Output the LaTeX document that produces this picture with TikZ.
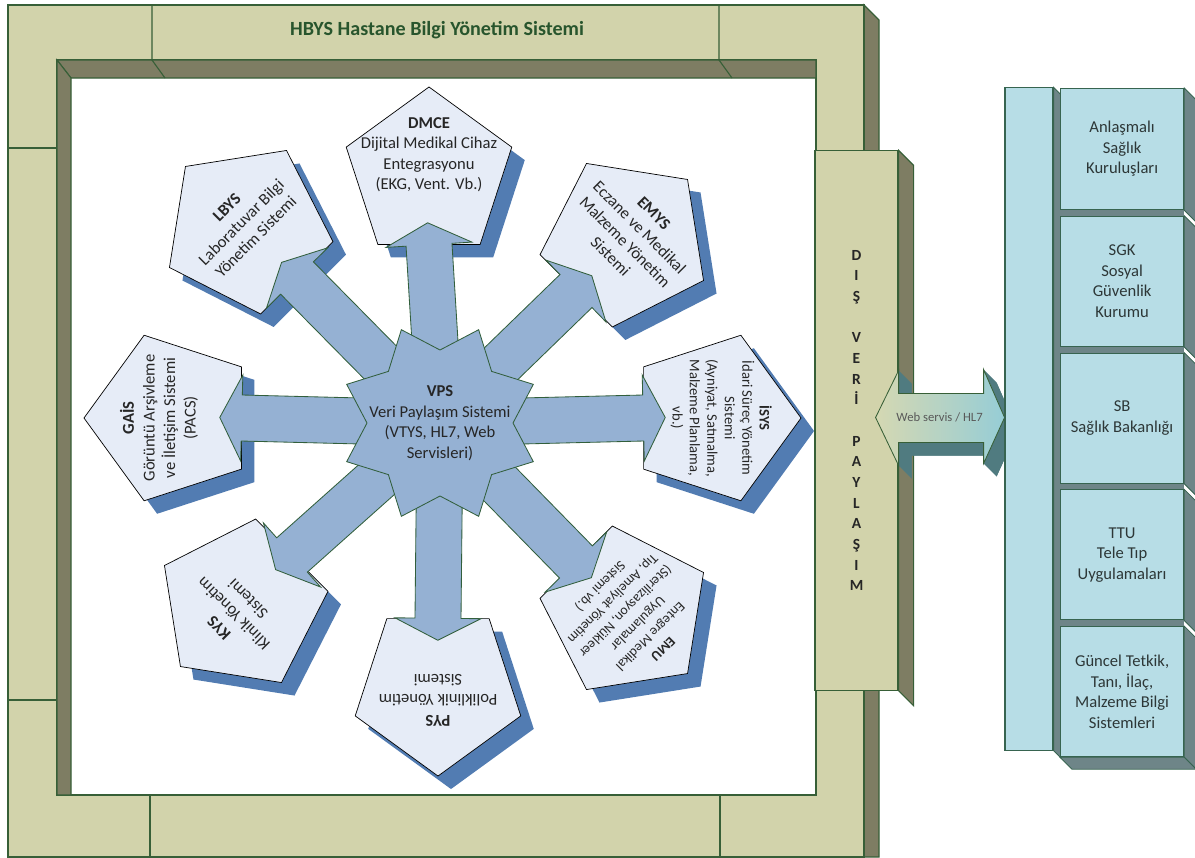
\documentclass[tikz,border=0pt]{standalone}
\usepackage{fontspec}
\setmainfont{Carlito}
\usetikzlibrary{shapes.geometric,positioning,calc}
\definecolor{frameLight}{RGB}{210,211,171}
\definecolor{frameDark}{RGB}{126,125,99}
\definecolor{frameLine}{RGB}{55,95,55}
\definecolor{titleGreen}{RGB}{40,85,45}
\definecolor{pentaFill}{RGB}{230,236,247}
\definecolor{pentaShadow}{RGB}{82,124,178}
\definecolor{spokeFill}{RGB}{149,177,211}
\definecolor{spokeLine}{RGB}{50,95,60}
\definecolor{orgFill}{RGB}{183,221,230}
\definecolor{orgSide}{RGB}{110,133,136}
\definecolor{orgLine}{RGB}{55,100,80}
\definecolor{orgText}{RGB}{45,55,55}
\definecolor{webLeft}{RGB}{213,216,178}
\definecolor{webRight}{RGB}{150,205,214}
\definecolor{webSide}{RGB}{80,123,128}
\newcommand\pentafont{\fontsize{11.8}{14.6}\selectfont}
\tikzset{pentabox/.style={
  regular polygon,
  regular polygon sides=5,
  minimum size=4.35cm,
  inner sep=0pt,
  draw=black,
  fill=pentaFill,
  line width=0.5pt,
  }
}
\tikzset{pentashade/.style={pentabox, draw=none, fill=pentaShadow}}
\tikzset{pentatext/.style={align=center, font=\pentafont, text=black!85, inner sep=0pt}}
\tikzset{spoke/.style={fill=spokeFill, draw=spokeLine, line width=0.6pt}}
\tikzset{framepart/.style={fill=frameLight, draw=frameLine, line width=0.8pt}}
\tikzset{frameside/.style={fill=frameDark, draw=frameLine, line width=0.8pt}}
\tikzset{orgbox/.style={fill=orgFill, draw=orgLine, line width=0.8pt, inner sep=0pt,
  minimum width=3.075cm, minimum height=3.25cm, align=center, text=orgText, font=\pentafont}}
\tikzset{orgside/.style={fill=orgSide, draw=orgLine, line width=0.6pt}}
\begin{document}
\begin{tikzpicture}[x=0.025cm, y=-0.025cm]
\useasboundingbox (0,0) rectangle (1195,857);

% outer frame
\draw[frameside] (864,5) -- (879,20) -- (879,857) -- (864,857) -- cycle;
\draw[framepart, even odd rule] (8,5) rectangle (864,857) (57,60) rectangle (816,795);
\draw[frameside] (57,60) -- (816,60) -- (816,78) -- (71,78) -- cycle;
\draw[frameside] (57,60) -- (71,78) -- (71,795) -- (57,795) -- cycle;
\draw[frameLine, line width=0.8pt] (152,5) -- (152,60) -- (165,78) (719,5) -- (719,60) -- (732,78);
\draw[frameLine, line width=0.8pt] (8,148) -- (57,148) (8,700) -- (57,700) (150,795) -- (150,857) (720,795) -- (720,857);
\node[font=\fontsize{14.3}{17}\selectfont\bfseries, text=titleGreen] (title) at (437,30) {HBYS Hastane Bilgi Yönetim Sistemi};

% modules round the hub
\coordinate (hub) at (440,423);
\foreach \n/\x/\y/\r in {dmce/429/174/0, emys/626/241/-45, isys/714/418/-90, emu/626/612/-135,
    pys/438/689/180, kys/242/605/135, gais/171/418/90, lbys/247/228/45}{
  \node[pentashade, rotate=\r] at (\x+13,\y+13) {};
  \node[pentabox, rotate=\r] (\n) at (\x,\y) {};
}
\foreach \n in {dmce,emys,isys,emu,pys,kys,gais,lbys}{
  \draw[spoke] ($(hub)!0.575cm!90:(\n.side 3)$) -- ($(\n.side 3)!0.575cm!-90:(hub)$)
    -- ($(\n.side 3)!1.075cm!-90:(hub)$) -- ($(\n.side 3)!-0.55cm!(hub)$)
    -- ($(\n.side 3)!1.075cm!90:(hub)$) -- ($(\n.side 3)!0.575cm!90:(hub)$)
    -- ($(hub)!0.575cm!-90:(\n.side 3)$) -- cycle;
}
\draw[spoke] ($(hub)+(22.5:101)$) \foreach \a in {45,90,...,360}{ -- ($(hub)+(\a:73)$) -- ($(hub)+(\a+22.5:101)$) } -- cycle;
\node[pentatext] (vps) at (hub) {\textbf{VPS}\\Veri Paylaşım Sistemi\\(VTYS, HL7, Web\\Servisleri)};

\node[pentatext] (dmcet) at ($(dmce.center)!0.48cm!(dmce.corner 1)$) {\textbf{DMCE}\\Dijital Medikal Cihaz\\Entegrasyonu\\(EKG, Vent. Vb.)};
\node[pentatext, rotate=-45] (emyst) at ($(emys.center)!0.22cm!(emys.corner 1)$) {\textbf{EMYS}\\Eczane ve Medikal\\Malzeme Yönetim\\Sistemi};
\node[pentatext, rotate=-90, font=\fontsize{10.4}{12.4}\selectfont] (isyst) at ($(isys.center)!0.18cm!(isys.corner 1)$) {\textbf{İSYS}\\İdari Süreç Yönetim\\Sistemi\\(Ayniyat, Satınalma,\\Malzeme Planlama,\\vb.)};
\node[pentatext, rotate=-135, font=\fontsize{9.8}{12.6}\selectfont] (emut) at ($(emu.center)!0.18cm!(emu.corner 1)$) {\textbf{EMU}\\Entegre Medikal\\Uygulamalar\\(Sterilizasyon, Nükleer\\Tıp, Ameliyat Yönetim\\Sistemi vb.)};
\node[pentatext, rotate=180] (pyst) at ($(pys.center)!0.28cm!(pys.corner 1)$) {\textbf{PYS}\\Poliklinik Yönetim\\Sistemi};
\node[pentatext, rotate=135] (kyst) at ($(kys.center)!0.3cm!(kys.corner 1)$) {\textbf{KYS}\\Klinik Yönetim\\Sistemi};
\node[pentatext, rotate=90] (gaist) at ($(gais.center)!0.3cm!(gais.corner 1)$) {\textbf{GAİS}\\Görüntü Arşivleme\\ve İletişim Sistemi\\(PACS)};
\node[pentatext, rotate=45] (lbyst) at ($(lbys.center)!0.2cm!(lbys.corner 1)$) {\textbf{LBYS}\\Laboratuvar Bilgi\\Yönetim Sistemi};

% external sharing column
\node[framepart, minimum width=2.075cm, minimum height=13.475cm, inner sep=0pt, align=center,
  font=\fontsize{11}{14.7}\selectfont\bfseries, text=black!85] (dis) at (856.5,420.5)
  {D\\I\\Ş\\~\\V\\E\\R\\İ\\~\\P\\A\\Y\\L\\A\\Ş\\I\\M};
\draw[frameside] (dis.north east) -- ++(15,15) -- ($(dis.south east)+(15,15)$) -- (dis.south east) -- cycle;

% web service arrow
\coordinate (webL) at ($(dis.east)+(-23,-3)$);
\begin{scope}[shift={(webL)}]
  \fill[webSide] (13,13) -- (36,-34) -- (36,-11) -- (121,-11) -- (121,-35) -- (142,13) -- (121,59) -- (121,38) -- (36,38) -- (36,61) -- cycle;
  \fill[webSide] (23,-47) -- (36,-34) -- (36,-11) -- (23,-24) -- cycle;
  \fill[webSide] (108,-48) -- (121,-35) -- (142,13) -- (121,59) -- (108,46) -- (129,0) -- cycle;
  \fill[webSide] (23,25) -- (108,25) -- (121,38) -- (36,38) -- cycle;
  \fill[webSide] (23,25) -- (36,38) -- (36,61) -- (23,48) -- cycle;
  \draw[frameLine, line width=0.6pt, left color=webLeft, right color=webRight]
    (0,0) -- (23,-47) -- (23,-24) -- (108,-24) -- (108,-48) -- (129,0) -- (108,46) -- (108,25) -- (23,25) -- (23,48) -- cycle;
\end{scope}
\node[font=\fontsize{9}{11}\selectfont, text=black!65] (webt) at ($(webL)+(64,0)$) {Web servis / HL7};

% external organisations
\node[orgbox, minimum width=1.2cm, minimum height=16.55cm] (strip) at (1029,419) {};
\draw[orgside] (strip.north east) -- ++(7,7) -- ($(strip.south east)+(7,7)$) -- (strip.south east) -- cycle;
\node[orgbox, minimum height=3.025cm, anchor=north west] (ask) at (1060,88) {Anlaşmalı\\Sağlık\\Kuruluşları};
\node[orgbox, below=0.14cm of ask] (sgk) {SGK\\Sosyal\\Güvenlik\\Kurumu};
\node[orgbox, below=0.14cm of sgk] (sb) {SB\\Sağlık Bakanlığı};
\node[orgbox, below=0.14cm of sb] (ttu) {TTU\\Tele Tıp\\Uygulamaları};
\node[orgbox, below=0.14cm of ttu] (gtt) {Güncel Tetkik,\\Tanı, İlaç,\\Malzeme Bilgi\\Sistemleri};
\foreach \a/\b in {ask/sgk,sgk/sb,sb/ttu,ttu/gtt}{
  \fill[orgSide] (\a.south west) rectangle (\b.north east);
}
\foreach \b in {ask,sgk,sb,ttu,gtt}{
  \draw[orgside] (\b.north east) -- ++(12,12) -- ($(\b.south east)+(12,12)$) -- (\b.south east) -- cycle;
}
\draw[orgside] (gtt.south west) -- (gtt.south east) -- ++(12,12) -- ($(gtt.south west)+(12,12)$) -- cycle;
\end{tikzpicture}
\end{document}
